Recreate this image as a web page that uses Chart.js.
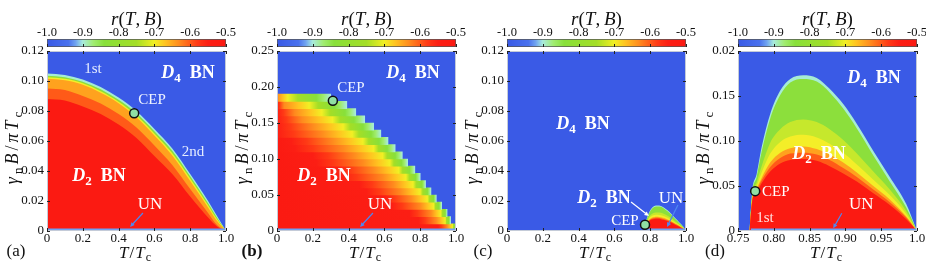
<!DOCTYPE html>
<html>
<head>
<meta charset="utf-8">
<script src="https://cdn.jsdelivr.net/npm/chart.js@4.4.1/dist/chart.umd.min.js"></script>
<style>
    html, body { margin: 0; padding: 0; background: #fff; }
    #wrap { position: relative; width: 926px; height: 272px; overflow: hidden; }
    canvas { position: absolute; }
</style>
</head>
<body>
<div id="wrap"></div>
<script>
// ---------- данные ----------
// шкала цвета r(T,B)
const rStops  = [-1.0, -0.94, -0.92, -0.9, -0.87, -0.84, -0.75, -0.7, -0.67, -0.63, -0.58, -0.55, -0.5];
const rColors = ['#3a5ae6', '#4a72ee', '#6fa3f0', '#a8ecdc', '#a0ec70', '#88e03a', '#a4de26', '#f2ef24', '#ffc420', '#ff8a1e', '#ff3a15', '#fc1e14', '#fb1a12'];
const cbTicks = [-1.0, -0.9, -0.8, -0.7, -0.6, -0.5];
const cbTickLabels = ['-1.0', '-0.9', '-0.8', '-0.7', '-0.6', '-0.5'];

// оси
const xTicksA = [0, 0.2, 0.4, 0.6, 0.8, 1.0];
const xTickLabelsA = ['0', '0.2', '0.4', '0.6', '0.8', '1.0'];
const yTicksA = [0, 0.02, 0.04, 0.06, 0.08, 0.10, 0.12];
const yTickLabelsA = ['0', '0.02', '0.04', '0.06', '0.08', '0.10', '0.12'];
const yTicksB = [0, 0.05, 0.10, 0.15, 0.20, 0.25];
const yTickLabelsB = ['0', '0.05', '0.10', '0.15', '0.20', '0.25'];
const xTicksD = [0.75, 0.80, 0.85, 0.90, 0.95, 1.0];
const xTickLabelsD = ['0.75', '0.80', '0.85', '0.90', '0.95', '1.0'];
const yTicksD = [0, 0.05, 0.10, 0.15, 0.20];
const yTickLabelsD = ['0', '0.05', '0.10', '0.15', '0.02'];

// (a): изолинии B(T) для уровней r
const tA      = [0, 0.1, 0.2, 0.3, 0.4, 0.5, 0.6, 0.7, 0.8, 0.9, 0.95, 1.0];
const edgeA   = [0.105, 0.104, 0.101, 0.096, 0.089, 0.080, 0.068, 0.055, 0.038, 0.020, 0.010, 0];
const greenA  = [0.1035, 0.1025, 0.0995, 0.0945, 0.0875, 0.0785, 0.0665, 0.0535, 0.0365, 0.0185, 0.0088, 0];
const yellowA = [0.1025, 0.1015, 0.0985, 0.0932, 0.0862, 0.0770, 0.0650, 0.0518, 0.0350, 0.0172, 0.0078, 0];
const orangeA = [0.1015, 0.1005, 0.0975, 0.0922, 0.0852, 0.0758, 0.0637, 0.0503, 0.0333, 0.0157, 0.0066, 0];
const redorA  = [0.095, 0.094, 0.090, 0.085, 0.078, 0.069, 0.057, 0.044, 0.028, 0.012, 0.004, 0];
const redA    = [0.088, 0.087, 0.083, 0.078, 0.071, 0.062, 0.050, 0.038, 0.023, 0.009, 0.003, 0];
const cepA = [0.487, 0.0785];
const unA = [0, 1];

// (b): строки по B, в каждой T, где r переходит уровни rowLevels
const rowLevels = [-0.55, -0.63, -0.7, -0.84, -0.9];
const rowB    = [0.005, 0.015, 0.025, 0.035, 0.045, 0.055, 0.065, 0.075, 0.085, 0.095, 0.105, 0.115, 0.125, 0.135, 0.145, 0.155, 0.165, 0.175, 0.185];
const tEdgeB  = [1.00, 0.97, 0.95, 0.92, 0.89, 0.86, 0.83, 0.80, 0.77, 0.73, 0.70, 0.66, 0.62, 0.58, 0.54, 0.49, 0.44, 0.39, 0.30];
const greenB  = [0.995, 0.96, 0.94, 0.905, 0.875, 0.84, 0.81, 0.775, 0.74, 0.695, 0.66, 0.615, 0.57, 0.525, 0.48, 0.43, 0.38, 0.32, 0.22];
const yellowB = [0.98, 0.94, 0.915, 0.875, 0.84, 0.80, 0.76, 0.72, 0.68, 0.63, 0.59, 0.54, 0.48, 0.42, 0.37, 0.31, 0.25, 0.18, 0.06];
const orangeB = [0.95, 0.89, 0.86, 0.80, 0.75, 0.69, 0.65, 0.59, 0.54, 0.48, 0.43, 0.37, 0.31, 0.25, 0.20, 0.14, 0.10, 0.04, 0.0];
const redB    = [0.90, 0.79, 0.74, 0.64, 0.60, 0.50, 0.46, 0.36, 0.33, 0.22, 0.20, 0.10, 0.08, 0.0, 0.0, 0.0, 0.0, 0.0, 0.0];
const cepB = [0.312, 0.181];
const unB = [0, 1];

// (c) и (d): изолинии над общей сеткой T
const tCD     = [0.766, 0.770, 0.776, 0.783, 0.795, 0.809, 0.823, 0.841, 0.860, 0.878, 0.897, 0.916, 0.939, 0.962, 0.985, 1.0];
const edgeC   = [0, 0.0045, 0.0062, 0.0090, 0.0127, 0.0153, 0.0166, 0.0170, 0.0167, 0.0155, 0.0138, 0.0117, 0.0087, 0.0059, 0.0029, 0];
const greenC  = [0, 0.0042, 0.0058, 0.0085, 0.0121, 0.0147, 0.0160, 0.0164, 0.0161, 0.0149, 0.0132, 0.0111, 0.0082, 0.0054, 0.0025, 0];
const limeC   = [0, 0.0040, 0.0053, 0.0071, 0.0097, 0.0113, 0.0121, 0.0124, 0.0121, 0.0113, 0.0101, 0.0086, 0.0065, 0.0045, 0.0021, 0];
const yellowC = [0, 0.0038, 0.0050, 0.0065, 0.0087, 0.0100, 0.0106, 0.0108, 0.0105, 0.0098, 0.0088, 0.0075, 0.0057, 0.0040, 0.0019, 0];
const orangeC = [0, 0.0036, 0.0047, 0.0059, 0.0077, 0.0088, 0.0093, 0.0095, 0.0092, 0.0086, 0.0077, 0.0066, 0.0050, 0.0035, 0.0016, 0];
const redorC  = [0, 0.0035, 0.0045, 0.0056, 0.0072, 0.0082, 0.0087, 0.0088, 0.0085, 0.0079, 0.0071, 0.0061, 0.0046, 0.0032, 0.0015, 0];
const redC    = [0, 0.0034, 0.0043, 0.0053, 0.0067, 0.0076, 0.0080, 0.0081, 0.0079, 0.0073, 0.0065, 0.0056, 0.0042, 0.0029, 0.0013, 0];
const cepC = [0.771, 0.0042];
const unC = [0.768, 1];

const edgeD   = [0, 0.045, 0.063, 0.093, 0.130, 0.156, 0.169, 0.173, 0.170, 0.158, 0.141, 0.119, 0.089, 0.060, 0.030, 0];
const greenD  = [0, 0.043, 0.060, 0.088, 0.125, 0.151, 0.165, 0.169, 0.166, 0.154, 0.136, 0.114, 0.084, 0.055, 0.026, 0];
const limeD   = [0, 0.040, 0.054, 0.072, 0.098, 0.113, 0.121, 0.124, 0.121, 0.113, 0.101, 0.086, 0.066, 0.046, 0.022, 0];
const yellowD = [0, 0.038, 0.050, 0.065, 0.086, 0.099, 0.105, 0.107, 0.104, 0.097, 0.087, 0.074, 0.057, 0.040, 0.019, 0];
const orangeD = [0, 0.036, 0.047, 0.059, 0.076, 0.087, 0.092, 0.094, 0.091, 0.085, 0.076, 0.065, 0.050, 0.035, 0.016, 0];
const redorD  = [0, 0.035, 0.045, 0.056, 0.071, 0.081, 0.086, 0.087, 0.085, 0.079, 0.070, 0.060, 0.046, 0.032, 0.015, 0];
const redD    = [0, 0.034, 0.043, 0.053, 0.066, 0.075, 0.079, 0.080, 0.078, 0.072, 0.064, 0.055, 0.042, 0.029, 0.013, 0];
const cepD = [0.774, 0.0443];
const unD = [0.768, 1];

// ---------- стиль ----------
const SERIF = "'Liberation Serif', 'DejaVu Serif', serif";
const BLUE = '#3a5ae6', EDGE = '#a6ecd4', GREEN = '#8cdf3c', LIME = '#c6e82c', YELLOW = '#f4ee28';
const ORANGE = '#ffa21e', REDOR = '#ff5a18', RED = '#fb1a12', UN_COLOR = '#6fa0f5', CEP_FILL = '#8fe0a4';
Chart.defaults.font.family = SERIF;

const D4 = [['D', 'bi'], ['4', 'bs'], ['\u2002BN', 'b']];
const D2 = [['D', 'bi'], ['2', 'bs'], ['\u2002BN', 'b']];

const panels = [
    {
        id: 'a', L: 47, R: 226, xMin: 0, xMax: 1, yMin: 0, yMax: 0.12,
        xTicks: xTicksA, xLabels: xTickLabelsA, yTicks: yTicksA, yLabels: yTickLabelsA,
        T: tA, levels: [[redA, RED], [redorA, REDOR], [orangeA, ORANGE], [yellowA, YELLOW], [greenA, GREEN], [edgeA, EDGE]],
        cep: cepA, un: unA, letter: '(a)', letterDx: -31, letterBold: false,
        labels: [
            { p: [['1st', '']], T: 0.257, B: 0.1087, s: 15, c: '#e4ecff' },
            { p: D4, T: 0.788, B: 0.106, s: 18, c: '#ffffff' },
            { p: [['CEP', '']], T: 0.587, B: 0.088, s: 15, c: '#eef3ff' },
            { p: [['2nd', '']], T: 0.816, B: 0.0533, s: 15, c: '#e4ecff' },
            { p: D2, T: 0.29, B: 0.0373, s: 18, c: '#ffffff' },
            { p: [['UN', '']], T: 0.575, B: 0.0187, s: 17, c: '#ffffff' },
        ],
        arrows: [{ from: [0.536, 0.012], to: [0.464, 0.0027], c: '#4f86f0' }],
    },
    {
        id: 'b', L: 277, R: 456, xMin: 0, xMax: 1, yMin: 0, yMax: 0.25,
        xTicks: xTicksA, xLabels: xTickLabelsA, yTicks: yTicksB, yLabels: yTickLabelsB,
        rows: true, cep: cepB, un: unB, letter: '(b)', letterDx: -25, letterBold: true,
        labels: [
            { p: D4, T: 0.76, B: 0.221, s: 18, c: '#ffffff' },
            { p: [['CEP', '']], T: 0.413, B: 0.2, s: 15, c: '#eef3ff' },
            { p: D2, T: 0.263, B: 0.078, s: 18, c: '#ffffff' },
            { p: [['UN', '']], T: 0.575, B: 0.039, s: 17, c: '#ffffff' },
        ],
        arrows: [{ from: [0.536, 0.025], to: [0.464, 0.0056], c: '#4f86f0' }],
    },
    {
        id: 'c', L: 507, R: 686, xMin: 0, xMax: 1, yMin: 0, yMax: 0.12,
        xTicks: xTicksA, xLabels: xTickLabelsA, yTicks: yTicksA, yLabels: yTickLabelsA,
        T: tCD, levels: [[redC, RED], [redorC, REDOR], [orangeC, ORANGE], [yellowC, YELLOW], [limeC, LIME], [greenC, GREEN], [edgeC, EDGE]],
        cep: cepC, un: unC, letter: '(c)', letterDx: -24, letterBold: false,
        labels: [
            { p: D4, T: 0.425, B: 0.072, s: 18, c: '#ffffff' },
            { p: D2, T: 0.542, B: 0.0227, s: 18, c: '#ffffff' },
            { p: [['UN', '']], T: 0.916, B: 0.0227, s: 17, c: '#ffffff' },
            { p: [['CEP', '']], T: 0.659, B: 0.0073, s: 15, c: '#ffffff' },
        ],
        arrows: [
            { from: [0.693, 0.0193], to: [0.793, 0.010], c: '#ffffff' },
            { from: [0.955, 0.0173], to: [0.894, 0.0027], c: '#4f86f0' },
        ],
    },
    {
        id: 'd', L: 738, R: 917, xMin: 0.75, xMax: 1, yMin: 0, yMax: 0.2,
        xTicks: xTicksD, xLabels: xTickLabelsD, yTicks: yTicksD, yLabels: yTickLabelsD,
        T: tCD, levels: [[redD, RED], [redorD, REDOR], [orangeD, ORANGE], [yellowD, YELLOW], [limeD, LIME], [greenD, GREEN], [edgeD, EDGE]],
        cep: cepD, un: unD, letter: '(d)', letterDx: -23, letterBold: false,
        labels: [
            { p: D4, T: 0.94, B: 0.171, s: 18, c: '#ffffff' },
            { p: D2, T: 0.863, B: 0.0867, s: 18, c: '#ffffff' },
            { p: [['CEP', '']], T: 0.7835, B: 0.0444, s: 15, c: '#ffffff', align: 'left' },
            { p: [['1st', '']], T: 0.7877, B: 0.0156, s: 15, c: '#ffe0e0' },
            { p: [['UN', '']], T: 0.922, B: 0.031, s: 17, c: '#ffffff' },
        ],
        arrows: [{ from: [0.895, 0.0197], to: [0.883, 0.003], c: '#4f86f0' }],
    },
];

// ---------- вспомогательное ----------
function makeCanvas(left, top, w, h) {
    const c = document.createElement('canvas');
    c.width = w; c.height = h;
    c.style.left = left + 'px'; c.style.top = top + 'px';
    c.style.width = w + 'px'; c.style.height = h + 'px';
    document.getElementById('wrap').appendChild(c);
    return c.getContext('2d');
}

// текст с курсивом, жирным и индексами
function drawRich(ctx, parts, x, y, size, color, align, gap) {
    gap = gap || 0;
    const fontFor = (st) => {
        const it = st.includes('i') ? 'italic ' : '';
        const bd = st.includes('b') ? 'bold ' : '';
        const sz = st.includes('s') ? Math.round(size * 0.72) : size;
        return `${it}${bd}${sz}px ${SERIF}`;
    };
    ctx.save();
    ctx.fillStyle = color;
    ctx.textBaseline = 'alphabetic';
    let w = 0;
    parts.forEach(([t, st]) => { ctx.font = fontFor(st); w += ctx.measureText(t).width; });
    w += gap * (parts.length - 1);
    let cx = align === 'left' ? x : x - w / 2;
    const base = y + size * 0.33;
    parts.forEach(([t, st]) => {
        ctx.font = fontFor(st);
        ctx.fillText(t, cx, base + (st.includes('s') ? size * 0.22 : 0));
        cx += ctx.measureText(t).width + gap;
    });
    ctx.restore();
}

function drawArrow(ctx, x1, y1, x2, y2, color) {
    const ang = Math.atan2(y2 - y1, x2 - x1), h = 5;
    ctx.save();
    ctx.strokeStyle = color; ctx.fillStyle = color; ctx.lineWidth = 1.2;
    ctx.beginPath(); ctx.moveTo(x1, y1); ctx.lineTo(x2 - h * 0.8 * Math.cos(ang), y2 - h * 0.8 * Math.sin(ang)); ctx.stroke();
    ctx.beginPath();
    ctx.moveTo(x2, y2);
    ctx.lineTo(x2 - h * Math.cos(ang - 0.45), y2 - h * Math.sin(ang - 0.45));
    ctx.lineTo(x2 - h * Math.cos(ang + 0.45), y2 - h * Math.sin(ang + 0.45));
    ctx.closePath(); ctx.fill();
    ctx.restore();
}

// засечки внутрь области графика со всех сторон
function innerTicks(chart, len, sides) {
    const { ctx, chartArea: a, scales } = chart;
    ctx.save();
    ctx.strokeStyle = '#222'; ctx.lineWidth = 1;
    ctx.beginPath();
    scales.x.ticks.forEach(t => {
        const px = Math.round(scales.x.getPixelForValue(t.value)) + 0.5;
        if (sides.includes('b')) { ctx.moveTo(px, a.bottom); ctx.lineTo(px, a.bottom - len); }
        if (sides.includes('t')) { ctx.moveTo(px, a.top); ctx.lineTo(px, a.top + len); }
    });
    if (sides.includes('l')) {
        scales.y.ticks.forEach(t => {
            const py = Math.round(scales.y.getPixelForValue(t.value)) + 0.5;
            ctx.moveTo(a.left, py); ctx.lineTo(a.left + len, py);
            ctx.moveTo(a.right, py); ctx.lineTo(a.right - len, py);
        });
    }
    ctx.stroke();
    ctx.restore();
}

// градиент строки (b): T -> r по точкам строки, затем r -> цвет по шкале
function rowGradient(c) {
    const i = c.dataIndex, chart = c.chart;
    if (i === undefined || !chart.chartArea) return RED;
    const xs = chart.scales.x, e = tEdgeB[i];
    const keysT = [redB[i], orangeB[i], yellowB[i], greenB[i], tEdgeB[i]];
    const g = chart.ctx.createLinearGradient(xs.getPixelForValue(0), 0, xs.getPixelForValue(e), 0);
    g.addColorStop(0, RED);
    for (let k = rStops.length - 1; k >= 0; k--) {
        const r = rStops[k];
        for (let j = 0; j < rowLevels.length - 1; j++) {
            if (r <= rowLevels[j] && r >= rowLevels[j + 1]) {
                const f = (rowLevels[j] - r) / (rowLevels[j] - rowLevels[j + 1]);
                const t = keysT[j] + f * (keysT[j + 1] - keysT[j]);
                g.addColorStop(Math.min(1, Math.max(0, t / e)), rColors[k]);
                break;
            }
        }
    }
    return g;
}

// ---------- шкала цвета над каждой панелью ----------
function colorbar(P) {
    const pad = 12;
    const ctx = makeCanvas(P.L - pad, 0, P.R - P.L + 2 * pad, 50);
    const span = rStops[rStops.length - 1] - rStops[0];
    new Chart(ctx, {
        type: 'bar',
        data: {
            labels: ['r'],
            datasets: [{
                data: [[rStops[0], rStops[rStops.length - 1]]],
                barPercentage: 1, categoryPercentage: 1,
                borderWidth: 1, borderColor: '#555', borderSkipped: false,
                backgroundColor: (c) => {
                    const a = c.chart.chartArea;
                    if (!a) return BLUE;
                    const g = c.chart.ctx.createLinearGradient(a.left, 0, a.right, 0);
                    rStops.forEach((r, i) => g.addColorStop((r - rStops[0]) / span, rColors[i]));
                    return g;
                },
            }],
        },
        options: {
            indexAxis: 'y', responsive: false, animation: false, events: [],
            layout: { padding: { left: pad, right: pad, top: 0, bottom: 3 } },
            plugins: { legend: { display: false }, tooltip: { enabled: false } },
            scales: {
                x: {
                    type: 'linear', position: 'top', min: rStops[0], max: rStops[rStops.length - 1],
                    afterBuildTicks: s => { s.ticks = cbTicks.map(v => ({ value: v })); },
                    ticks: { callback: (v, i) => cbTickLabels[i], font: { family: SERIF, size: 12.5, lineHeight: 1 }, color: '#111', padding: 0, maxRotation: 0, autoSkip: false },
                    grid: { display: false, drawTicks: false }, border: { display: false },
                    afterFit: s => { s.height = 39; },
                },
                y: { display: false },
            },
        },
        plugins: [{
            id: 'cbDeco' + P.id,
            afterDatasetsDraw(chart) {
                innerTicks(chart, 3, 'b');
                const a = chart.chartArea;
                drawRich(chart.ctx, [['r', 'i'], ['(', ''], ['T', 'i'], [',\u2009', ''], ['B', 'i'], [')', '']],
                    (a.left + a.right) / 2, 19, 19, '#111');
            },
        }],
    });
}

// ---------- основная панель ----------
function mainChart(P) {
    const padR = 12, yW = 46, top = 40, H = 232;
    const ctx = makeCanvas(P.L - yW, top, P.R - P.L + yW + padR, H);
    const tickFont = { family: SERIF, size: 13, lineHeight: 1 };

    const datasets = [
        { type: 'scatter', data: [{ x: P.cep[0], y: P.cep[1] }], pointRadius: 4.5, pointBackgroundColor: CEP_FILL,
          pointBorderColor: '#111', pointBorderWidth: 1.5, order: 0, clip: false },
        { type: 'line', data: [{ x: P.un[0], y: 0 }, { x: P.un[1], y: 0 }], borderColor: UN_COLOR, borderWidth: 5,
          pointRadius: 0, fill: false, clip: 0, order: 1 },
    ];
    if (P.rows) {
        datasets.push({
            type: 'bar',
            data: rowB.map((b, i) => ({ x: tEdgeB[i], y: b })),
            barPercentage: 1, categoryPercentage: 1, borderWidth: 0, order: 2,
            backgroundColor: rowGradient,
        });
    } else {
        P.levels.forEach(([arr, col], k) => datasets.push({
            type: 'line',
            data: P.T.map((t, i) => ({ x: t, y: arr[i] })),
            fill: 'origin', backgroundColor: col, borderColor: 'rgba(0,0,0,0)', borderWidth: 0,
            pointRadius: 0, cubicInterpolationMode: 'monotone', order: 2 + k,
        }));
    }

    new Chart(ctx, {
        type: P.rows ? 'bar' : 'line',
        data: { datasets },
        options: {
            indexAxis: P.rows ? 'y' : 'x',
            responsive: false, animation: false, events: [],
            layout: { padding: { left: 0, right: padR, top: 11, bottom: 0 } },
            plugins: { legend: { display: false }, tooltip: { enabled: false } },
            scales: {
                x: {
                    type: 'linear', min: P.xMin, max: P.xMax, offset: false,
                    afterBuildTicks: s => { s.ticks = P.xTicks.map(v => ({ value: v })); },
                    ticks: { callback: (v, i) => P.xLabels[i], font: tickFont, color: '#111', padding: 1, maxRotation: 0, autoSkip: false },
                    grid: { display: false, drawTicks: false }, border: { display: false },
                    afterFit: s => { s.height = 41; },
                },
                y: {
                    type: 'linear', min: P.yMin, max: P.yMax, offset: false,
                    afterBuildTicks: s => { s.ticks = P.yTicks.map(v => ({ value: v })); },
                    ticks: { callback: (v, i) => P.yLabels[i], font: tickFont, color: '#111', padding: 3, autoSkip: false },
                    grid: { display: false, drawTicks: false }, border: { display: false },
                    afterFit: s => { s.width = yW; },
                },
            },
        },
        plugins: [{
            id: 'deco' + P.id,
            beforeDatasetsDraw(chart) {
                const { ctx, chartArea: a } = chart;
                ctx.save();
                ctx.fillStyle = BLUE;
                ctx.fillRect(a.left, a.top, a.right - a.left, a.bottom - a.top);
                ctx.restore();
            },
            afterDatasetsDraw(chart) {
                const { ctx, chartArea: a, scales } = chart;
                ctx.save();
                ctx.strokeStyle = '#c4cbd8'; ctx.lineWidth = 1;
                ctx.strokeRect(a.left + 0.5, a.top + 0.5, a.right - a.left - 1, a.bottom - a.top - 1);
                ctx.restore();
                innerTicks(chart, 3, 'btl');
                const px = (t) => scales.x.getPixelForValue(t);
                const py = (b) => scales.y.getPixelForValue(b);
                P.arrows.forEach(ar => drawArrow(ctx, px(ar.from[0]), py(ar.from[1]), px(ar.to[0]), py(ar.to[1]), ar.c));
                P.labels.forEach(l => drawRich(ctx, l.p, px(l.T), py(l.B), l.s, l.c, l.align));
            },
            afterDraw(chart) {
                const ctx = chart.ctx, a = chart.chartArea;
                // подпись оси y (повёрнутая)
                ctx.save();
                ctx.translate(a.left - 35, 108);
                ctx.rotate(-Math.PI / 2);
                drawRich(ctx, [['\u03b3', 'i'], ['n', 's'], ['B', 'i'], ['/', ''], ['\u03c0', 'i'], ['T', 'i'], ['c', 's']], 0, 0, 18, '#111', 'center', 3);
                ctx.restore();
                // подпись оси x
                drawRich(ctx, [['T', 'i'], ['/', ''], ['T', 'i'], ['c', 's']], a.left + 88, 212, 17, '#111', 'center', 1);
                // буква панели
                drawRich(ctx, [[P.letter, P.letterBold ? 'b' : '']], a.left + P.letterDx, 210, 17, '#111');
            },
        }],
    });
}

panels.forEach(P => { colorbar(P); mainChart(P); });
</script>
</body>
</html>
